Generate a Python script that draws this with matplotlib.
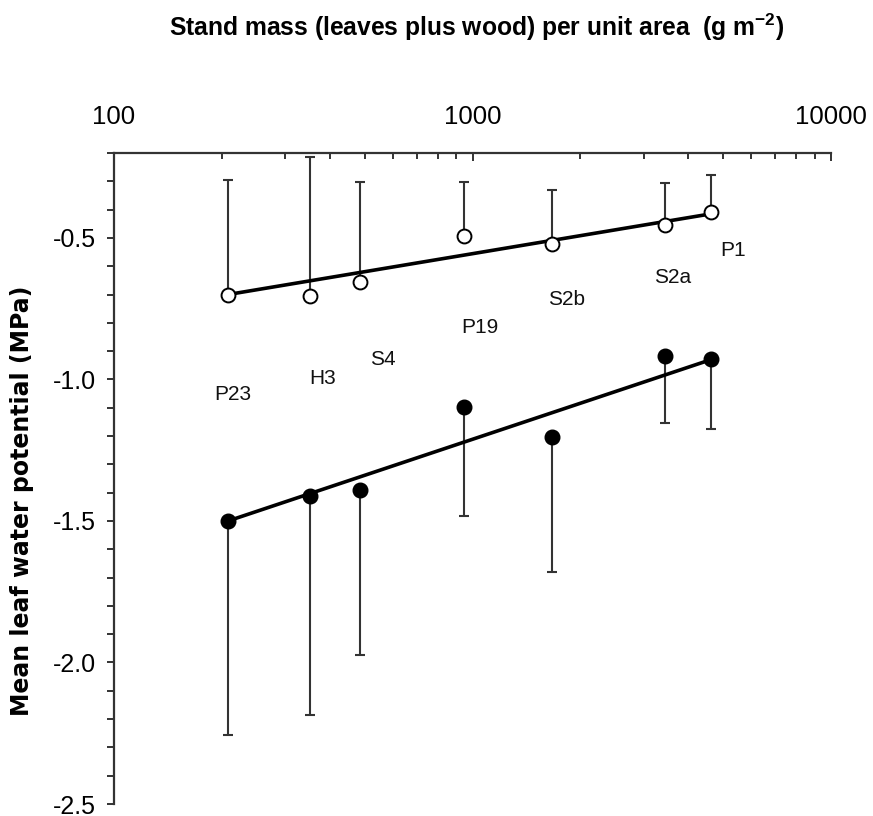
import matplotlib
matplotlib.use("Agg")
import matplotlib.pyplot as plt
import matplotlib.ticker as mticker
import numpy as np

plt.rcParams['font.family'] = ['Liberation Sans', 'DejaVu Sans']
plt.rcParams['axes.unicode_minus'] = False
plt.rcParams['mathtext.default'] = 'regular'

# stands, stand mass (g m-2), mean leaf water potential (MPa)
sites = ['P23', 'H3', 'S4', 'P19', 'S2b', 'S2a', 'P1']
mass = [208, 352, 485, 946, 1663, 3435, 4626]

# open circles (upper series) with upper error bar limits
psi_open = [-0.700, -0.705, -0.655, -0.495, -0.521, -0.454, -0.407]
psi_open_top = [-0.295, -0.213, -0.301, -0.303, -0.330, -0.305, -0.276]

# filled circles (lower series) with lower error bar limits
psi_fill = [-1.500, -1.413, -1.390, -1.099, -1.203, -0.916, -0.929]
psi_fill_bot = [-2.257, -2.184, -1.975, -1.481, -1.680, -1.155, -1.175]

# regression lines (psi at first and last stand)
fit_open = [-0.700, -0.415]
fit_fill = [-1.500, -0.930]

# site label positions
lab_x = [215, 382, 562, 1051, 1826, 3606, 5333]
lab_y = [-1.052, -0.995, -0.931, -0.816, -0.716, -0.639, -0.545]

axc = '#333333'

fig = plt.figure(figsize=(8.73, 8.16), dpi=100)
ax = fig.add_axes([114/873, 1-804/816, (831-114)/873, (804-153)/816])

mass = np.array(mass)
po = np.array(psi_open)
pf = np.array(psi_fill)

ax.errorbar(mass, po, yerr=[np.zeros(len(po)), np.array(psi_open_top) - po],
            fmt='none', ecolor=axc, elinewidth=1.5, capsize=3.5, capthick=1.5, zorder=2)
ax.errorbar(mass, pf, yerr=[pf - np.array(psi_fill_bot), np.zeros(len(pf))],
            fmt='none', ecolor=axc, elinewidth=1.5, capsize=3.5, capthick=1.5, zorder=2)

ax.plot([mass[0], mass[-1]], fit_open, color='black', lw=2.6, zorder=3)
ax.plot([mass[0], mass[-1]], fit_fill, color='black', lw=2.6, zorder=3)

ax.plot(mass, po, 'o', ms=10, mfc='white', mec='black', mew=1.4, zorder=4)
ax.plot(mass, pf, 'o', ms=10.5, mfc='black', mec='black', zorder=4)

for s, x, y in zip(sites, lab_x, lab_y):
    ax.text(x, y, s, ha='center', va='center', fontsize=15, color='#111111')

ax.set_xscale('log')
ax.set_xlim(100, 10000)
ax.set_ylim(-2.5, -0.2)

ax.xaxis.tick_top()
ax.xaxis.set_major_locator(mticker.FixedLocator([100, 1000, 10000]))
ax.xaxis.set_major_formatter(mticker.FixedFormatter(['100', '1000', '10000']))
ax.xaxis.set_minor_locator(mticker.LogLocator(base=10, subs=np.arange(2, 10)))
ax.xaxis.set_minor_formatter(mticker.NullFormatter())
ax.tick_params(axis='x', which='major', direction='in', length=6, width=1.4,
               color=axc, labelsize=18.5, pad=17)
ax.tick_params(axis='x', which='minor', direction='in', length=4.5, width=1.4, color=axc)

ax.yaxis.set_major_locator(mticker.FixedLocator([-2.5, -2.0, -1.5, -1.0, -0.5]))
ax.yaxis.set_major_formatter(mticker.FormatStrFormatter('%.1f'))
ax.yaxis.set_minor_locator(mticker.MultipleLocator(0.1))
ax.tick_params(axis='y', which='both', direction='out', length=5.3, width=1.4,
               color=axc, labelsize=18, pad=8)

for side in ['bottom', 'right']:
    ax.spines[side].set_visible(False)
for side in ['top', 'left']:
    ax.spines[side].set_color(axc)
    ax.spines[side].set_linewidth(1.6)

fig.text(477/873, 1-27/816, 'Stand mass (leaves plus wood) per unit area  (g m$^{-2}$)',
         ha='center', va='center', fontsize=17.7, fontweight='bold')
fig.text(22/873, 1-501/816, 'Mean leaf water potential (MPa)', rotation=90,
         ha='center', va='center', fontsize=17, fontweight='bold',
         family=['DejaVu Sans'])

fig.savefig('out.png', dpi=100)
